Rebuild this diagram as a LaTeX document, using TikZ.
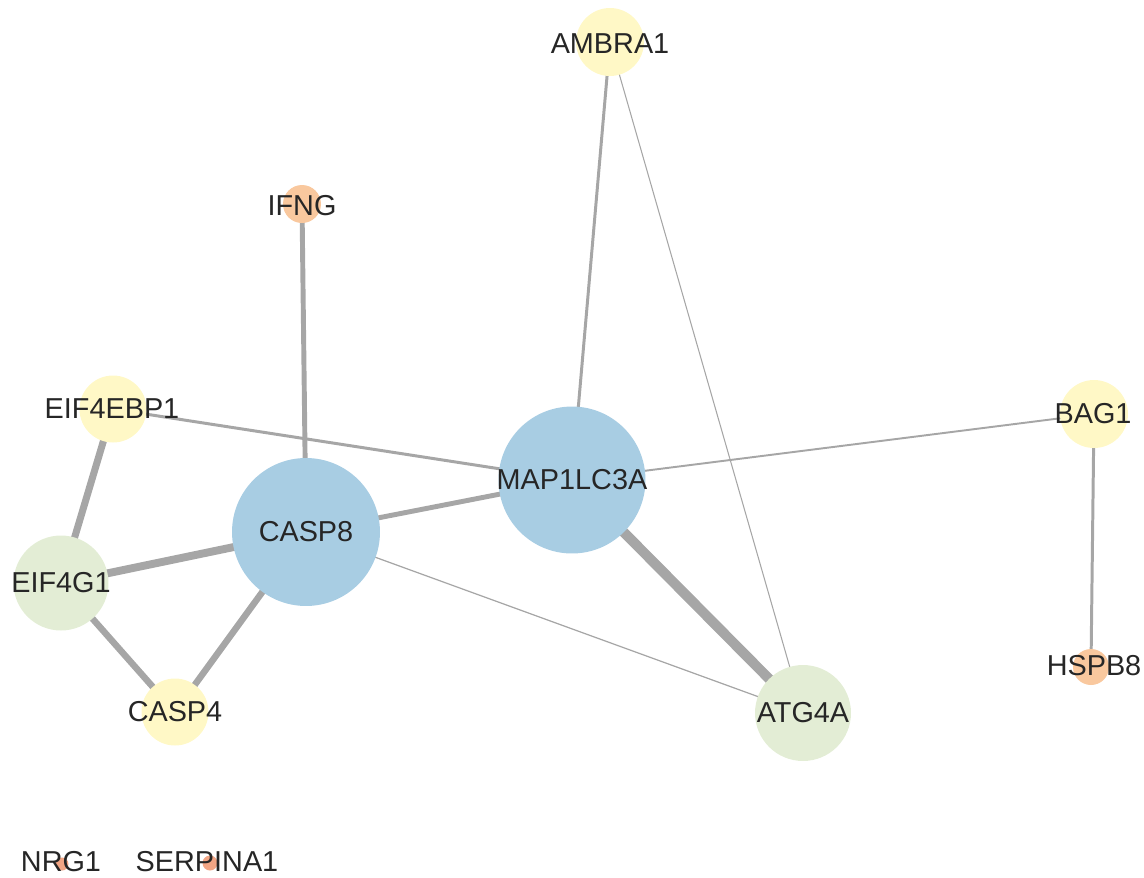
\documentclass[tikz,border=0pt]{standalone}
\usepackage{fontspec}
\setmainfont{Liberation Sans}
\usetikzlibrary{backgrounds}
\definecolor{nblue}{HTML}{A8CDE3}
\definecolor{nyellow}{HTML}{FFF8C6}
\definecolor{ngreen}{HTML}{E3EDD5}
\definecolor{norange}{HTML}{F9C89E}
\definecolor{ndot}{HTML}{F2A584}
\definecolor{edgec}{HTML}{A6A6A6}
\definecolor{txt}{HTML}{262626}
\begin{document}
\begin{tikzpicture}[x=0.02cm,y=-0.02cm,
  gnode/.style={circle,inner sep=0pt,draw=none,text=txt},
  lab/.style={text=txt,inner sep=0pt,font=\fontsize{16.4}{19}\selectfont},
  edge/.style={draw=edgec,line cap=butt}]
\useasboundingbox (0,0) rectangle (1144,877);
% circles
\node[gnode,fill=nyellow,minimum size=1.36cm] (ambra1) at (610,42) {};
\node[gnode,fill=norange,minimum size=0.76cm] (ifng) at (302,204) {};
\node[gnode,fill=nyellow,minimum size=1.34cm] (eif4ebp1) at (113,409) {};
\node[gnode,fill=nblue,minimum size=2.96cm] (casp8) at (306,532) {};
\node[gnode,fill=nblue,minimum size=2.94cm] (map1lc3a) at (572,480) {};
\node[gnode,fill=nyellow,minimum size=1.36cm] (bag1) at (1094,414) {};
\node[gnode,fill=ngreen,minimum size=1.9cm] (eif4g1) at (61,583) {};
\node[gnode,fill=nyellow,minimum size=1.34cm] (casp4) at (175,712) {};
\node[gnode,fill=ngreen,minimum size=1.92cm] (atg4a) at (803,713) {};
\node[gnode,fill=norange,minimum size=0.72cm] (hspb8) at (1091,667) {};
\node[gnode,fill=ndot,minimum size=0.26cm] (nrg1) at (62,864) {};
\node[gnode,fill=ndot,minimum size=0.3cm] (serpina1) at (210,863) {};
% labels
\node[lab] at (610,44) {AMBRA1};
\node[lab] at (302,206) {IFNG};
\node[lab] at (112,409) {EIF4EBP1};
\node[lab] at (306,532) {CASP8};
\node[lab] at (572,480) {MAP1LC3A};
\node[lab] at (1093,414) {BAG1};
\node[lab] at (61,583) {EIF4G1};
\node[lab] at (175,712) {CASP4};
\node[lab] at (803,713) {ATG4A};
\node[lab] at (1094,666) {HSPB8};
\node[lab] at (61,862) {NRG1};
\node[lab] at (207,862) {SERPINA1};
% edges
\begin{pgfonlayer}{background}
\draw[edge,line width=1.7pt] (ambra1.center) -- (map1lc3a.center);
\draw[edge,line width=0.6pt] (ambra1.center) -- (atg4a.center);
\draw[edge,line width=2.8pt] (ifng.center) -- (casp8.center);
\draw[edge,line width=1.7pt] (eif4ebp1.center) -- (map1lc3a.center);
\draw[edge,line width=4pt] (eif4ebp1.center) -- (eif4g1.center);
\draw[edge,line width=4.5pt] (eif4g1.center) -- (casp8.center);
\draw[edge,line width=3.7pt] (eif4g1.center) -- (casp4.center);
\draw[edge,line width=3.7pt] (casp8.center) -- (casp4.center);
\draw[edge,line width=2.8pt] (casp8.center) -- (map1lc3a.center);
\draw[edge,line width=0.7pt] (casp8.center) -- (atg4a.center);
\draw[edge,line width=5.7pt] (map1lc3a.center) -- (atg4a.center);
\draw[edge,line width=1.1pt] (map1lc3a.center) -- (bag1.center);
\draw[edge,line width=1.7pt] (bag1.center) -- (hspb8.center);
\end{pgfonlayer}
\end{tikzpicture}
\end{document}
